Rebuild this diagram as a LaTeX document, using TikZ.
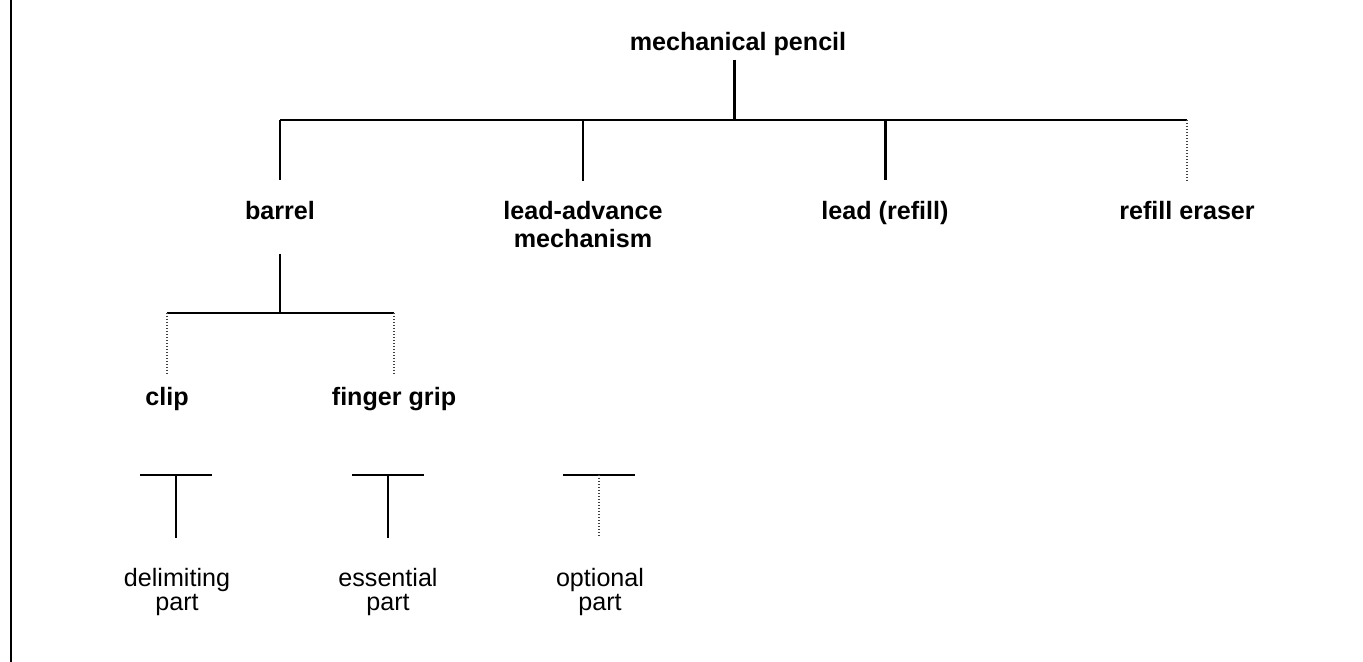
\documentclass[tikz,border=0pt]{standalone}
\usepackage{fontspec}
\setmainfont{Liberation Sans}
\begin{document}
\begin{tikzpicture}[x=0.02cm, y=-0.02cm,
	part/.style={font=\fontsize{14.3}{16.4}\selectfont\bfseries, inner sep=0pt, anchor=base, align=center},
	keytext/.style={font=\fontsize{14.3}{13.6}\selectfont, inner sep=0pt, anchor=base, align=center},
	delimiting/.style={line width=1.7pt},
	essential/.style={line width=1.1pt},
	optional/.style={line width=0.6pt, black!75, dash pattern=on 0.6pt off 1.1pt}]
	\useasboundingbox (0,0) rectangle (1363,662);
	\draw[essential] (11,0) -- (11,662);

	% the parts
	\node[part] (pencil) at (738,51) {mechanical pencil};
	\node[part] (barrel) at (280,220) {barrel};
	\node[part] (advance) at (583,248) {lead-advance\\mechanism};
	\node[part] (lead) at (885,220) {lead (refill)};
	\node[part] (eraser) at (1187,220) {refill eraser};
	\node[part] (clip) at (167,405) {clip};
	\node[part] (grip) at (394,405) {finger grip};

	\coordinate (bar0) at (734,120);
	\coordinate (bar1) at (280,313);

	% pencil and its parts
	\draw[delimiting, shorten <=0.06cm] (pencil.south -| bar0) -- (bar0);
	\draw[essential] (barrel.north |- bar0) -- (eraser.north |- bar0);
	\draw[essential, shorten >=0.42cm] (barrel.north |- bar0) -- (barrel.north);
	\draw[delimiting, shorten >=0.4cm] (advance.north |- bar0) -- (advance.north);
	\draw[delimiting, shorten >=0.42cm] (lead.north |- bar0) -- (lead.north);
	\draw[optional, shorten >=0.42cm] (eraser.north |- bar0) -- (eraser.north);

	% barrel and its parts
	\draw[essential, shorten <=0.66cm] (barrel.south) -- (bar1);
	\draw[essential] (clip.north |- bar1) -- (grip.north |- bar1);
	\draw[optional, shorten >=0.26cm] (clip.north |- bar1) -- (clip.north);
	\draw[optional, shorten >=0.26cm] (grip.north |- bar1) -- (grip.north);

	% key
	\node[keytext] (delim) at (177,610) {delimiting\\part};
	\node[keytext] (essent) at (388,610) {essential\\part};
	\node[keytext] (option) at (600,610) {optional\\part};
	\coordinate (key1) at (176,475);
	\coordinate (key2) at (388,475);
	\coordinate (key3) at (599,475);
	\draw[essential] ([xshift=-0.72cm]key1) -- ([xshift=0.72cm]key1);
	\draw[essential] ([xshift=-0.72cm]key2) -- ([xshift=0.72cm]key2);
	\draw[essential] ([xshift=-0.72cm]key3) -- ([xshift=0.72cm]key3);
	\draw[delimiting, shorten >=0.6cm] (key1) -- (delim.north -| key1);
	\draw[essential, shorten >=0.6cm] (key2) -- (essent.north);
	\draw[optional, shorten >=0.6cm] (key3) -- (option.north -| key3);
\end{tikzpicture}
\end{document}
